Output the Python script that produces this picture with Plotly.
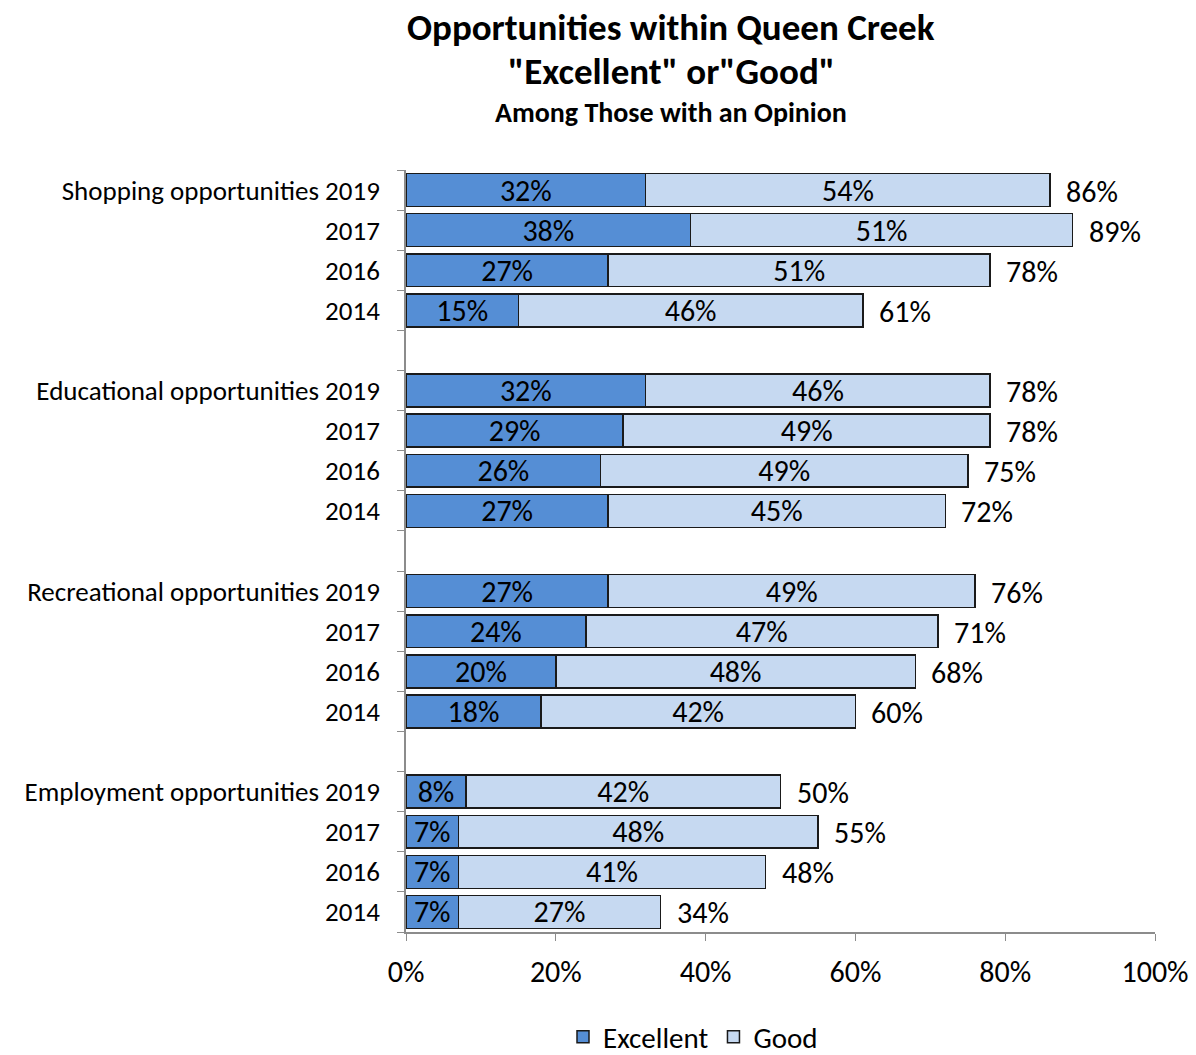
import plotly.graph_objects as go

# Survey results: share rating each opportunity "Excellent" or "Good"
groups = ["Shopping opportunities", "Educational opportunities",
          "Recreational opportunities", "Employment opportunities"]
years = ["2019", "2017", "2016", "2014"]

excellent = [
    [32, 38, 27, 15],   # Shopping
    [32, 29, 26, 27],   # Educational
    [27, 24, 20, 18],   # Recreational
    [8, 7, 7, 7],       # Employment
]
good = [
    [54, 51, 51, 46],
    [46, 49, 49, 45],
    [49, 47, 48, 42],
    [42, 48, 41, 27],
]
totals = [
    [86, 89, 78, 61],
    [78, 78, 75, 72],
    [76, 71, 68, 60],
    [50, 55, 48, 34],
]

x_ticks = [0, 20, 40, 60, 80, 100]

FONT = "Carlito, Calibri, Lato, sans-serif"
EXC_COLOR = "#558ED5"
GOOD_COLOR = "#C6D9F1"
EDGE = "#1a1a1a"
AXIS = "#8c8c8c"

# Lay out one slot per bar, with an empty slot between groups
ys, labels, exc_vals, good_vals, tot_vals = [], [], [], [], []
slot = 0
for g, name in enumerate(groups):
    for k, yr in enumerate(years):
        ys.append(slot)
        labels.append(f"{name} {yr}" if k == 0 else yr)
        exc_vals.append(excellent[g][k])
        good_vals.append(good[g][k])
        tot_vals.append(totals[g][k])
        slot += 1
    if g < len(groups) - 1:
        slot += 1
n_slots = slot

bar_style = dict(orientation="h", textposition="inside",
                 insidetextanchor="middle", constraintext="none",
                 textangle=0, width=0.82, hoverinfo="skip",
                 textfont=dict(family=FONT, size=30, color="black"))

fig = go.Figure()
fig.add_trace(go.Bar(
    y=ys, x=exc_vals, name="Excellent",
    marker=dict(color=EXC_COLOR, line=dict(color=EDGE, width=1.5)),
    text=[f"{v}%" for v in exc_vals], **bar_style,
))
fig.add_trace(go.Bar(
    y=ys, x=good_vals, name="Good",
    marker=dict(color=GOOD_COLOR, line=dict(color=EDGE, width=1.5)),
    text=[f"{v}%" for v in good_vals], **bar_style,
))

# Totals to the right of each bar
for y, t in zip(ys, tot_vals):
    fig.add_annotation(x=t, y=y, xref="x", yref="y", text=f"{t}%",
                       showarrow=False, xanchor="left", xshift=14, yshift=-1,
                       font=dict(family=FONT, size=30, color="black"))

# Titles (pixel positions mapped to paper coordinates)
L, R, T, B = 406, 41, 170, 123
W, H = 1196, 1055
pw, ph = W - L - R, H - T - B


def px_x(px):
    return (px - L) / pw


def px_y(py):
    return (H - B - py) / ph


for txt, py, size in [("Opportunities within Queen Creek", 27, 37),
                      ('"Excellent" or"Good"', 72, 37),
                      ("Among Those with an Opinion", 112, 28)]:
    fig.add_annotation(x=px_x(671), y=px_y(py), xref="paper", yref="paper",
                       text=f"<b>{txt}</b>", showarrow=False,
                       xanchor="center", yanchor="middle",
                       font=dict(family=FONT, size=size, color="black"))

boundaries = [i - 0.5 for i in range(n_slots + 1)]

fig.update_layout(
    width=W, height=H,
    margin=dict(l=L, r=R, t=T, b=B, autoexpand=False),
    barmode="stack",
    plot_bgcolor="white", paper_bgcolor="white",
    font=dict(family=FONT, size=27, color="black"),
    showlegend=True,
    legend=dict(orientation="h", x=px_x(693), xanchor="center",
                y=px_y(1037), yanchor="middle",
                font=dict(family=FONT, size=29, color="black"),
                itemwidth=30, traceorder="normal"),
    xaxis=dict(range=[0, 100], tickvals=x_ticks,
               ticktext=[f"{v}%" for v in x_ticks],
               showgrid=False, zeroline=False,
               showline=True, linecolor=AXIS, linewidth=1.5,
               ticks="outside", ticklen=7, tickcolor=AXIS,
               ticklabelstandoff=5,
               tickfont=dict(family=FONT, size=30, color="black"),
               fixedrange=True),
    yaxis=dict(range=[n_slots - 0.5, -0.5], tickvals=ys, ticktext=labels,
               showgrid=False, zeroline=False,
               showline=True, linecolor=AXIS, linewidth=1.5,
               ticks="", ticklabelstandoff=19,
               tickfont=dict(family=FONT, size=27, color="black"),
               minor=dict(tickvals=boundaries, ticks="outside", ticklen=7,
                          tickcolor=AXIS, showgrid=False),
               fixedrange=True),
)

fig.write_html("out.html")
